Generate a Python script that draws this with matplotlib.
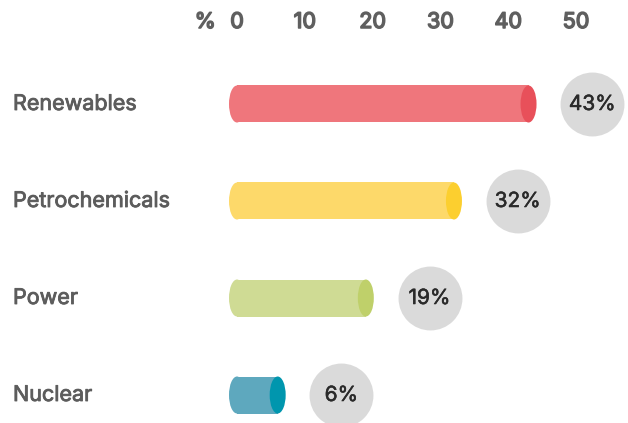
import numpy as np
import matplotlib.pyplot as plt
import matplotlib.patheffects as pe
from matplotlib.patches import Ellipse

plt.rcParams['font.family'] = ['Inter', 'DejaVu Sans']

sectors = ["Renewables", "Petrochemicals", "Power", "Nuclear"]
shares = [43, 32, 19, 6]
tick_vals = [0, 10, 20, 30, 40, 50]
body_colors = ["#ef767c", "#fdd96a", "#cfdb94", "#5ea8be"]
cap_colors = ["#e8505a", "#fccf2f", "#bfd06a", "#0096ae"]


def heavy(color, w):
    # thicken the regular face a little
    return [pe.Stroke(linewidth=w, foreground=color), pe.Normal()]


fig = plt.figure(figsize=(6.28, 4.23), dpi=100)
ax = fig.add_axes([0, 0, 1, 1])

# one data unit = 6.78 px horizontally, one row = 97 px vertically
ax.set_xlim(-237 / 6.78, (628 - 237) / 6.78)
ax.set_ylim((423 - 104) / 97, -104 / 97)
ax.axis("off")

ypos = np.arange(len(sectors))
bar_h = 37 / 97
cap_w = 16 / 6.78

for y, v, bc, cc in zip(ypos, shares, body_colors, cap_colors):
    ax.add_patch(Ellipse((0, y), cap_w, bar_h, color=bc, lw=0))
    ax.barh(y, v, height=bar_h, left=0, color=bc, lw=0)
    ax.add_patch(Ellipse((v, y), cap_w, bar_h, color=cc, lw=0))

# value bubbles
bubble_x = np.array(shares) + 9.4
ax.scatter(bubble_x, ypos, s=46 ** 2, color="#dadada", lw=0, zorder=3)
for bx, y, v in zip(bubble_x, ypos, shares):
    ax.text(bx, y, f"{v}%", ha="center", va="center", fontsize=15,
            color="#2a2a2a", zorder=4, path_effects=heavy("#2a2a2a", 0.4))

# category labels
for y, name in zip(ypos, sectors):
    ax.text(13 / 6.78 - 237 / 6.78, y, name, ha="left", va="center",
            fontsize=15.5, color="#5c5c5c", path_effects=heavy("#5c5c5c", 0.6))

# scale along the top
tick_y = -82 / 97
for t in tick_vals:
    ax.text(t, tick_y, str(t), ha="center", va="center", fontsize=15.5,
            color="#5f5f5f", path_effects=heavy("#5f5f5f", 1.1))
ax.text(-4.7, tick_y, "%", ha="center", va="center", fontsize=15.5,
        color="#5f5f5f", path_effects=heavy("#5f5f5f", 1.1))

fig.savefig("out.png", dpi=100)
